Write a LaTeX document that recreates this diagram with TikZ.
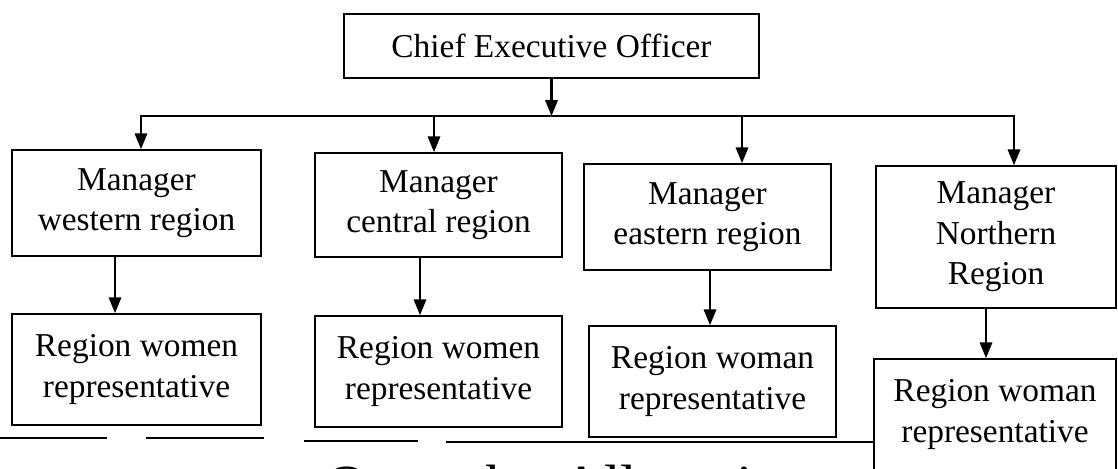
\documentclass[tikz,border=0pt]{standalone}
\usepackage{fontspec}
\setmainfont{Liberation Serif}
\usetikzlibrary{arrows.meta}

\tikzset{
  unit/.style={draw, line width=0.9pt, fill=white, align=center, inner sep=0pt,
    font=\fontsize{19}{23}\selectfont},
  down/.style={-{Triangle[width=7pt,length=9pt]}, line width=1.3pt},
}

\begin{document}
\begin{tikzpicture}[x=0.02cm, y=-0.02cm]
  \useasboundingbox (0,0) rectangle (1118,468);
  % boxes
  \node[unit, minimum width=8.3cm, minimum height=1.28cm] (ceo) at (551.5,46) {Chief Executive Officer};
  \node[unit, minimum width=4.98cm, minimum height=2.12cm] (mwest) at (136.5,203) {Manager\\western region};
  \node[unit, minimum width=4.94cm, minimum height=2.08cm] (mcent) at (438.5,205) {Manager\\central region};
  \node[unit, minimum width=4.94cm, minimum height=2.12cm] (meast) at (707.5,217) {Manager\\eastern region};
  \node[unit, minimum width=4.8cm, minimum height=2.84cm] (mnorth) at (996,237) {Manager\\Northern\\Region};
  \node[unit, minimum width=4.98cm, minimum height=2.22cm] (rwest) at (136.5,369.5) {Region women\\representative};
  \node[unit, minimum width=4.94cm, minimum height=2.22cm] (rcent) at (438.5,371.5) {Region women\\representative};
  \node[unit, minimum width=4.94cm, minimum height=2.22cm] (reast) at (712.5,381.5) {Region woman\\representative};
  \node[unit, minimum width=4.84cm, minimum height=2.22cm] (rnorth) at (995,414.5) {Region woman\\representative};

  % ceo to the managers
  \coordinate (bus) at (551.5,116);
  \draw[down] (ceo.south) -- (bus);
  \coordinate (b1) at (141,116);
  \coordinate (b2) at (434,116);
  \coordinate (b3) at (742,116);
  \coordinate (b4) at (1014,116);
  \draw[line width=1.1pt, line cap=rect] (b1) -- (b4);
  \foreach \b/\m in {b1/mwest, b2/mcent, b3/meast, b4/mnorth} {
    \draw[down] (\b) -- (\b |- \m.north);
  }

  % managers to the representatives
  \foreach \m/\r/\d in {mwest/rwest/-0.43, mcent/rcent/-0.37, meast/reast/0.05, mnorth/rnorth/-0.2} {
    \path ([xshift=\d cm]\m.south) coordinate (top);
    \draw[down] (top) -- (top |- \r.north);
  }

  % rules and cut heading at the foot of the page
  \foreach \xa/\xb/\y in {0/107/438, 146/264/438, 304/418/441, 446/874/442} {
    \draw[line width=0.6pt] (\xa,\y) -- (\xb,\y);
  }
  \begin{scope}
    \clip (0,0) rectangle (1118,468);
    \node[anchor=base west, inner sep=0pt, font=\fontsize{34}{40}\selectfont] (quota) at (325,506) {Quota by Allocation};
  \end{scope}
\end{tikzpicture}
\end{document}
